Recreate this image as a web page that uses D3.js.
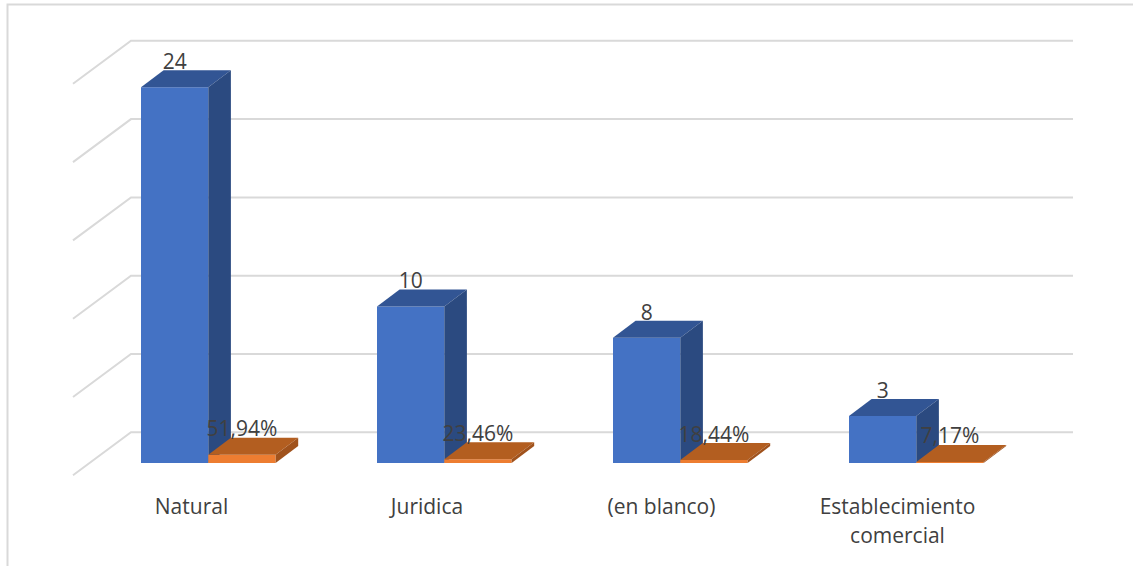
<!DOCTYPE html>
<html><head><meta charset="utf-8">
<script src="https://cdn.jsdelivr.net/npm/d3@7"></script>
<style>html,body{margin:0;padding:0;background:#fff;overflow:hidden}svg{display:block}text{font-family:"Open Sans",sans-serif;fill:#404040}</style>
</head><body><svg id="c" width="1134" height="566"></svg>
<script>
const categories=[["Natural"],["Juridica"],["(en blanco)"],["Establecimiento","comercial"]];
const counts=[24,10,8,3];
const shares=[0.5194,0.2346,0.1844,0.0717];
const shareLabels=["51,94%","23,46%","18,44%","7,17%"];
const gridTicks=[0,5,10,15,20,25];

const svg=d3.select("#c");
const y=d3.scaleLinear().domain([0,25]).range([463,71.5]);
const x0=d3.scaleLinear().domain([0,4]).range([141,1085]);
const barW=67.3, dx=22.6, dy=17;
const wallDx=58, wallDy=43, wallFrontOffset=12.3;
const catLabelX=[191.5,427,661.5,897.5];

svg.append("path").attr("d","M7.5,566V4.5H1133").attr("fill","none").attr("stroke","#d9d9d9").attr("stroke-width",2);

gridTicks.forEach(t=>{
  const yF=y(t)+wallFrontOffset;
  svg.append("polyline").attr("fill","none").attr("stroke","#d9d9d9").attr("stroke-width",2)
    .attr("points",[[73,yF],[73+wallDx,yF-wallDy],[1073,yF-wallDy]].join(" "));
});

function box(xL,v,cFront,cTop,cSide){
  const b=y(0),t=y(v),r=xL+barW;
  const g=svg.append("g");
  g.append("path").attr("fill",cFront).attr("d",`M${xL},${b}V${t}H${r}V${b}Z`);
  g.append("path").attr("fill",cTop).attr("d",`M${xL},${t}L${xL+dx},${t-dy}H${r+dx}L${r},${t}Z`);
  g.append("path").attr("fill",cSide).attr("d",`M${r},${b}V${t}L${r+dx},${t-dy}V${b-dy}Z`);
}
categories.forEach((c,i)=>{
  const xL=x0(i);
  box(xL,counts[i],"#4472c4","#325594","#2b4a80");
  box(xL+barW,shares[i],"#ed7d31","#b35e20","#a0521c");
});
categories.forEach((c,i)=>{
  const xL=x0(i);
  svg.append("text").attr("x",xL+barW/2).attr("y",y(counts[i])-dy-1.2).attr("text-anchor","middle").attr("font-size",21).text(counts[i]);
  svg.append("text").attr("x",xL+barW*1.5).attr("y",y(shares[i])-dy-1.5).attr("text-anchor","middle").attr("font-size",21).text(shareLabels[i]);
  c.forEach((ln,j)=>svg.append("text").attr("x",catLabelX[i]).attr("y",514+j*29).attr("text-anchor","middle").attr("font-size",21).text(ln));
});
</script></body></html>
